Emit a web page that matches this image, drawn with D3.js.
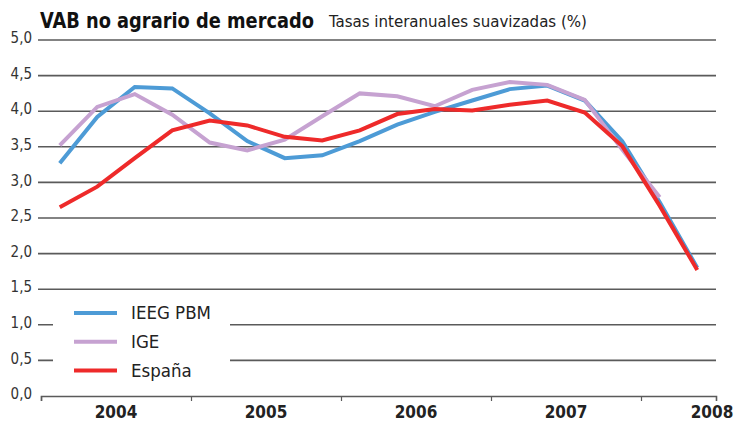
<!DOCTYPE html>
<html>
<head>
<meta charset="utf-8">
<script src="https://cdn.jsdelivr.net/npm/d3@7"></script>
<style>
  body { margin: 0; background: #fff; }
  svg { display: block; font-family: "Liberation Sans Narrow", "DejaVu Sans Condensed", "Roboto", sans-serif; }
</style>
</head>
<body>
<svg id="chart" width="736" height="422"></svg>
<script>
// data (quarterly, 2004 T1 .. 2008 T2)
var years = [2004, 2005, 2006, 2007, 2008];
var yTicks = [0, 0.5, 1, 1.5, 2, 2.5, 3, 3.5, 4, 4.5, 5];
var ieeg = [3.27, 3.92, 4.34, 4.32, 3.97, 3.58, 3.34, 3.38, 3.58, 3.81, 3.99, 4.15, 4.31, 4.36, 4.15, 3.58, 2.72, 1.80];
var ige = [3.52, 4.06, 4.24, 3.95, 3.56, 3.45, 3.60, 3.93, 4.25, 4.21, 4.07, 4.30, 4.41, 4.37, 4.16, 3.46, 2.79];
var espana = [2.65, 2.94, 3.34, 3.73, 3.87, 3.80, 3.64, 3.59, 3.73, 3.96, 4.03, 4.01, 4.09, 4.15, 3.98, 3.51, 2.67, 1.77];
var seriesNames = ["IEEG PBM", "IGE", "España"];
var colors = ["#4d9bd6", "#c6a2d1", "#ee2a2a"];

var width = 736, height = 422;
var svg = d3.select('#chart');

// scales
var xScale = d3.scaleLinear()
  .domain([2004, 2008.5])
  .range([41, 716]);
var yScale = d3.scaleLinear()
  .domain([0, 5])
  .range([396, 40]);

function qx(i) { return xScale(2004 + (i + 0.5) / 4); }

// gridlines
svg.append('g').selectAll('line')
  .data(yTicks.filter(function(d){ return d > 0; }))
  .enter().append('line')
  .attr('x1', 38).attr('x2', 716)
  .attr('y1', function(d){ return yScale(d); })
  .attr('y2', function(d){ return yScale(d); })
  .attr('stroke', '#5a5a5a')
  .attr('stroke-width', 1.6);

// y labels
svg.append('g').selectAll('text')
  .data(yTicks)
  .enter().append('text')
  .attr('x', 32)
  .attr('y', function(d){ return yScale(d) - 2; })
  .attr('dy', '0.35em')
  .attr('text-anchor', 'end')
  .attr('font-size', 15)
  .attr('fill', '#333')
  .text(function(d){ return d3.format('.1f')(d).replace('.', ','); });

// x axis
var xAxis = d3.axisBottom(xScale)
  .tickValues(years)
  .tickSize(5)
  .tickFormat('');
var gx = svg.append('g')
  .attr('transform', 'translate(0,' + yScale(0) + ')')
  .call(xAxis);
gx.select('.domain').attr('stroke', '#5a5a5a').attr('stroke-width', 1.6);
gx.selectAll('.tick line').attr('stroke', '#5a5a5a').attr('stroke-width', 1.2);

svg.append('g').selectAll('text')
  .data(years)
  .enter().append('text')
  .attr('x', function(d){ return Math.min(xScale(d + 0.5), width - 24); })
  .attr('y', 418)
  .attr('text-anchor', 'middle')
  .attr('font-size', 17)
  .attr('font-weight', 'bold')
  .attr('fill', '#222')
  .text(function(d){ return d; });

// legend background (interrupts gridlines)
svg.append('rect')
  .attr('x', 53).attr('y', 298)
  .attr('width', 177).attr('height', 86)
  .attr('fill', '#fff');

// lines
var line = d3.line()
  .x(function(d, i){ return qx(i); })
  .y(function(d){ return yScale(d); });
var allSeries = [ieeg, ige, espana];
svg.append('g').selectAll('path')
  .data(allSeries)
  .enter().append('path')
  .attr('d', line)
  .attr('fill', 'none')
  .attr('stroke', function(d, i){ return colors[i]; })
  .attr('stroke-width', 4)
  .attr('stroke-linejoin', 'miter');

// legend
var leg = svg.append('g').selectAll('g')
  .data(seriesNames)
  .enter().append('g')
  .attr('transform', function(d, i){ return 'translate(74,' + (313 + i * 28.7) + ')'; });
leg.append('line')
  .attr('x1', 0).attr('x2', 43)
  .attr('stroke', function(d, i){ return colors[i]; })
  .attr('stroke-width', 4);
leg.append('text')
  .attr('x', 57)
  .attr('dy', '0.35em')
  .attr('font-size', 18.5)
  .attr('fill', '#222')
  .text(function(d){ return d; });

// title
svg.append('text')
  .attr('x', 40).attr('y', 28)
  .attr('font-size', 21)
  .attr('font-weight', 'bold')
  .attr('fill', '#111')
  .attr('textLength', 274)
  .attr('lengthAdjust', 'spacingAndGlyphs')
  .text('VAB no agrario de mercado');
svg.append('text')
  .attr('x', 329).attr('y', 27)
  .attr('font-size', 15)
  .attr('fill', '#222')
  .attr('textLength', 258)
  .attr('lengthAdjust', 'spacingAndGlyphs')
  .text('Tasas interanuales suavizadas (%)');
</script>
</body>
</html>
